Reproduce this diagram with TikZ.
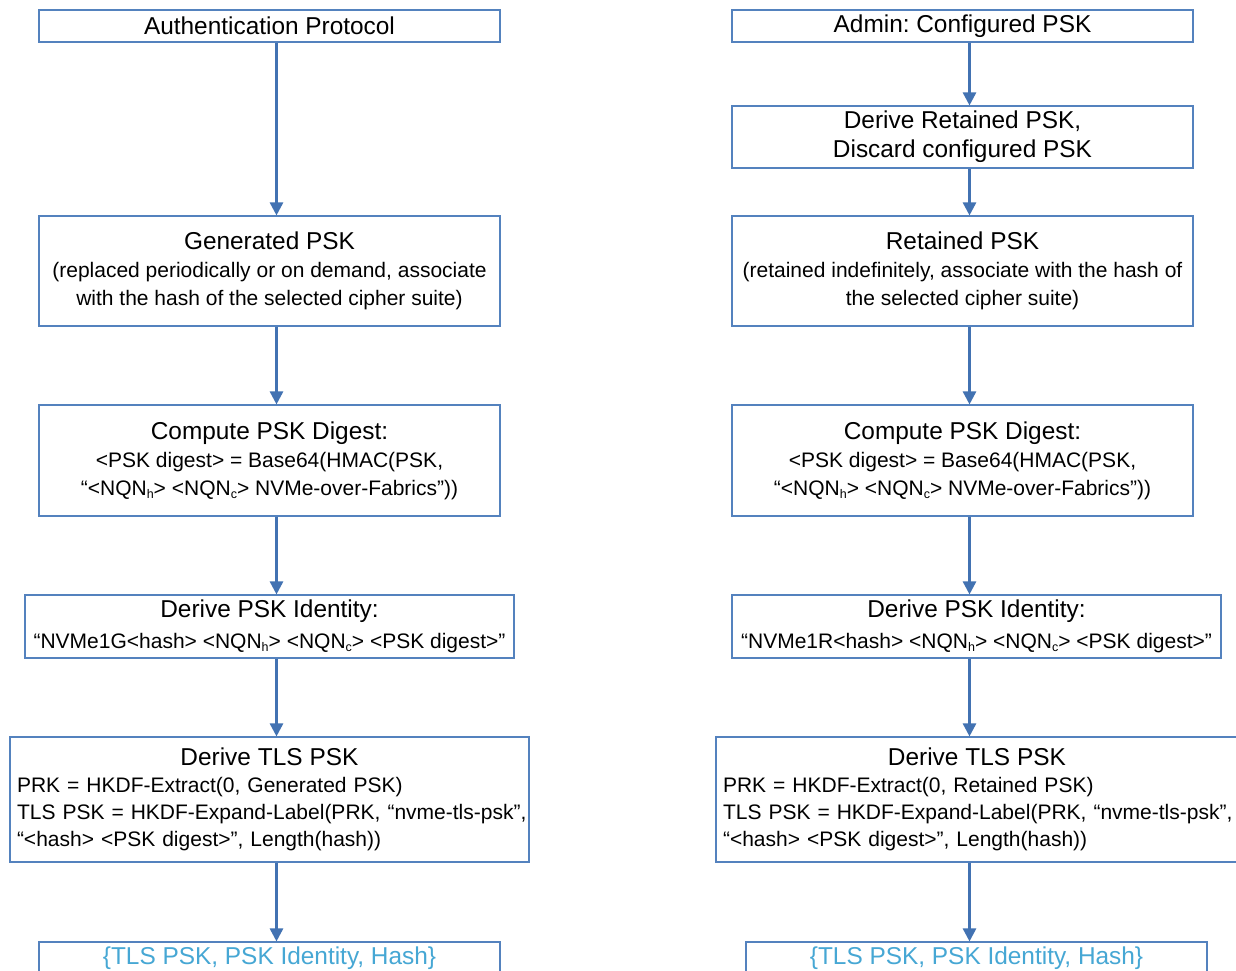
\documentclass[tikz,border=0pt]{standalone}
\usepackage{fontspec}
\setmainfont{Liberation Sans}
\usetikzlibrary{arrows.meta}
\frenchspacing

\definecolor{boxline}{RGB}{84,130,190}
\definecolor{arrowline}{RGB}{66,114,178}
\definecolor{resulttext}{RGB}{70,167,212}

% subscript for the NQN host/controller names
\newcommand{\nqnsub}[1]{\raisebox{-3pt}{\fontsize{12.5}{12.5}\selectfont #1}}
% heading line inside a box
\newcommand{\boxhead}[1]{{\fontsize{24.4}{28}\selectfont #1}}

\tikzset{
  box/.style={draw=boxline, line width=1.1pt, rectangle, inner sep=0pt,
              align=center, font=\fontsize{21}{28}\selectfont},
  narrow/.style={box, minimum width=461pt},
  flow/.style={draw=arrowline, line width=2.6pt,
               -{Triangle[length=13pt,width=13pt]}},
}

\begin{document}
\begin{tikzpicture}[x=1pt, y=-1pt]
  \fill[white] (0,0) rectangle (1236,971);
  \useasboundingbox (0,0) rectangle (1236,971);

  % x positions of the two arrow columns
  \coordinate (colL) at (276.5,0);
  \coordinate (colR) at (969.5,0);

  % ---------------- left column: generated PSK ----------------
  \node[narrow, minimum height=32pt] (authL) at (269.5,26)
    {\boxhead{Authentication Protocol}};
  \node[narrow, minimum height=110pt] (genL) at (269.5,271)
    {\boxhead{Generated PSK}\\
     (replaced periodically or on demand, associate\\
     with the hash of the selected cipher suite)};
  \node[narrow, minimum height=111pt] (digL) at (269.5,460.5)
    {\boxhead{Compute PSK Digest:}\\
     <PSK digest> = Base64(HMAC(PSK,\\
     “<NQN\nqnsub{h}> <NQN\nqnsub{c}> NVMe-over-Fabrics”))};
  \node[box, minimum width=489pt, minimum height=63pt, font=\fontsize{21}{31}\selectfont] (idL) at (269.5,626.5)
    {\raisebox{-1.5pt}{\boxhead{Derive PSK Identity:}}\\
     \raisebox{-1.5pt}{“NVMe1G<hash> <NQN\nqnsub{h}> <NQN\nqnsub{c}> <PSK digest>”}};
  \node[box, minimum width=519pt, minimum height=125pt, text width=505pt,
        align=left, font=\fontsize{21}{27}\selectfont] (tlsL) at (269.5,799.5)
    {\makebox[505pt]{\raisebox{-1.5pt}{\boxhead{Derive TLS PSK}}}\\
     \raisebox{-1.5pt}{PRK = HKDF-Extract(0, Generated PSK)}\\
     \raisebox{-1.5pt}{\mbox{TLS PSK = HKDF-Expand-Label(PRK, “nvme-tls-psk”,}}\\
     \raisebox{-1.5pt}{“<hash> <PSK digest>”, Length(hash))}};
  \node[narrow, minimum height=32pt, text=resulttext] (outL) at (269.5,958)
    {\boxhead{\{TLS PSK, PSK Identity, Hash\}}};

  \draw[flow] (authL.south -| colL) -- (genL.north -| colL);
  \draw[flow] (genL.south -| colL) -- (digL.north -| colL);
  \draw[flow] (digL.south -| colL) -- (idL.north -| colL);
  \draw[flow] (idL.south -| colL) -- (tlsL.north -| colL);
  \draw[flow] (tlsL.south -| colL) -- (outL.north -| colL);

  % ---------------- right column: retained PSK ----------------
  \node[narrow, minimum height=32pt] (adminR) at (962.5,26)
    {\boxhead{Admin: Configured PSK}};
  \node[narrow, minimum height=62pt, font=\fontsize{24.4}{29}\selectfont] (retR) at (962.5,137)
    {Derive Retained PSK,\\ Discard configured PSK};
  \node[narrow, minimum height=110pt] (keepR) at (962.5,271)
    {\boxhead{Retained PSK}\\
     (retained indefinitely, associate with the hash of\\
     the selected cipher suite)};
  \node[narrow, minimum height=111pt] (digR) at (962.5,460.5)
    {\boxhead{Compute PSK Digest:}\\
     <PSK digest> = Base64(HMAC(PSK,\\
     “<NQN\nqnsub{h}> <NQN\nqnsub{c}> NVMe-over-Fabrics”))};
  \node[box, minimum width=489pt, minimum height=63pt, font=\fontsize{21}{31}\selectfont] (idR) at (976.5,626.5)
    {\raisebox{-1.5pt}{\boxhead{Derive PSK Identity:}}\\
     \raisebox{-1.5pt}{“NVMe1R<hash> <NQN\nqnsub{h}> <NQN\nqnsub{c}> <PSK digest>”}};
  \node[box, minimum width=522pt, minimum height=125pt, text width=508pt,
        align=left, font=\fontsize{21}{27}\selectfont] (tlsR) at (977,799.5)
    {\makebox[508pt]{\raisebox{-1.5pt}{\boxhead{Derive TLS PSK}}}\\
     \raisebox{-1.5pt}{PRK = HKDF-Extract(0, Retained PSK)}\\
     \raisebox{-1.5pt}{\mbox{TLS PSK = HKDF-Expand-Label(PRK, “nvme-tls-psk”,}}\\
     \raisebox{-1.5pt}{“<hash> <PSK digest>”, Length(hash))}};
  \node[narrow, minimum height=32pt, text=resulttext] (outR) at (976.5,958)
    {\boxhead{\{TLS PSK, PSK Identity, Hash\}}};

  \draw[flow] (adminR.south -| colR) -- (retR.north -| colR);
  \draw[flow] (retR.south -| colR) -- (keepR.north -| colR);
  \draw[flow] (keepR.south -| colR) -- (digR.north -| colR);
  \draw[flow] (digR.south -| colR) -- (idR.north -| colR);
  \draw[flow] (idR.south -| colR) -- (tlsR.north -| colR);
  \draw[flow] (tlsR.south -| colR) -- (outR.north -| colR);
\end{tikzpicture}
\end{document}
